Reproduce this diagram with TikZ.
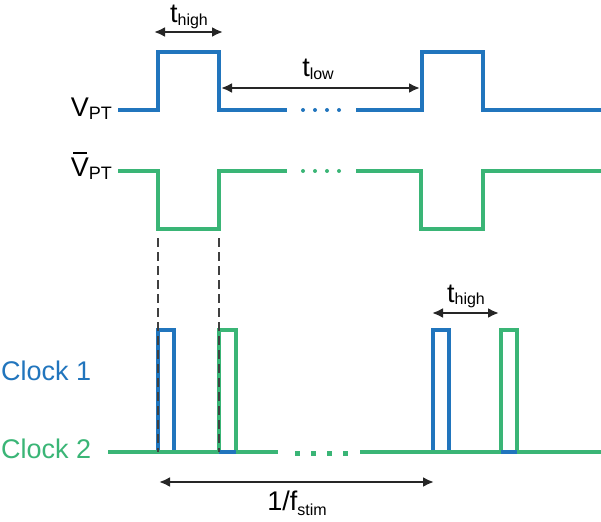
\documentclass[tikz,border=0pt]{standalone}
\usepackage{fontspec}
\setmainfont{Liberation Sans}
\usetikzlibrary{arrows.meta}
\definecolor{ptblue}{RGB}{33,117,189}
\definecolor{ptgreen}{RGB}{58,181,118}
\newcommand{\lowidx}[2][-2.5pt]{\raisebox{#1}{\fontsize{16}{16}\selectfont #2}}
\newcommand{\barV}{\makebox[0pt][l]{\hspace{0.09em}\raisebox{0.87em}{\rule{0.5em}{1.6pt}}}V}

\begin{document}
\begin{tikzpicture}[x=1pt,y=-1pt,
  trace/.style={line width=3.3pt,line join=miter},
  span/.style={line width=2.8pt,black!85,{Latex[length=11pt,width=10pt]}-{Latex[length=11pt,width=10pt]}},
  lbl/.style={font=\fontsize{27}{29}\selectfont,inner sep=0pt}]
\useasboundingbox (0,0) rectangle (601,521);

% signal names
\node[lbl,anchor=base east] (vpt) at (112,117) {V\lowidx{\fontsize{18}{18}\selectfont PT}};
\node[lbl,anchor=base east] (vptbar) at (112,177) {\barV\lowidx{\fontsize{18}{18}\selectfont PT}};
\node[lbl,anchor=base west,text=ptblue] (clka) at (1,380) {Clock 1};
\node[lbl,anchor=base west,text=ptgreen] (clkb) at (1,458) {Clock 2};

% V_PT and its complement
\draw[trace,ptblue] (118,110) -- (158,110) -- (158,52) -- (219,52) -- (219,110) -- (287,110);
\draw[trace,ptblue] (356,110) -- (422,110) -- (422,52) -- (483,52) -- (483,110) -- (601,110);
\draw[trace,ptgreen] (118,171) -- (158,171) -- (158,229) -- (219,229) -- (219,171) -- (287,171);
\draw[trace,ptgreen] (356,171) -- (421,171) -- (421,229) -- (483,229) -- (483,171) -- (601,171);
\foreach \x in {303,315,327,339}{
  \fill[ptblue] (\x,110) circle (2pt);
  \fill[ptgreen] (\x,171) circle (2pt);
}

% clocks
\draw[trace,ptblue] (108,452) -- (158,452) -- (158,330) -- (174,330) -- (174,452) -- (278,452);
\draw[trace,ptblue] (360,452) -- (433,452) -- (433,330) -- (449,330) -- (449,452) -- (601,452);
\draw[trace,ptgreen] (108,452) -- (219,452) -- (219,330) -- (236,330) -- (236,452);
\draw[trace,ptgreen] (236,452) -- (278,452);
\draw[trace,ptgreen] (360,452) -- (501,452) -- (501,330) -- (517,330) -- (517,452);
\draw[trace,ptgreen] (517,452) -- (601,452);
\draw[trace,ptblue] (219,452) -- (236,452) (501,452) -- (517,452);
\foreach \x in {297,313,329,345}
  \fill[ptgreen] (\x-2.5,450.5) rectangle (\x+2.5,455.5);

% edges carried down
\coordinate (ea) at (158,238);
\coordinate (eb) at (219,238);
\draw[black!75,line width=1.1pt,dash pattern=on 9pt off 5pt] (ea) -- (158,452) (eb) -- (219,452);

% time spans
\coordinate (ha) at (154,32);
\coordinate (hb) at (223,32);
\draw[span] (ha) -- (hb);
\node[lbl,anchor=base] (thigha) at (189,23) {t\lowidx{high}};
\coordinate (la) at (221,88);
\coordinate (lb) at (420,88);
\draw[span] (la) -- (lb);
\node[lbl,anchor=base] (tlow) at (318,77) {t\lowidx{low}};
\coordinate (hc) at (432,313);
\coordinate (hd) at (499,313);
\draw[span] (hc) -- (hd);
\node[lbl,anchor=base] (thighb) at (466,302) {t\lowidx{high}};
\coordinate (sa) at (159,482);
\coordinate (sb) at (434,482);
\draw[span] (sa) -- (sb);
\node[lbl,anchor=base] (fstim) at (297,510) {1/f\lowidx[-5pt]{stim}};
\end{tikzpicture}
\end{document}
